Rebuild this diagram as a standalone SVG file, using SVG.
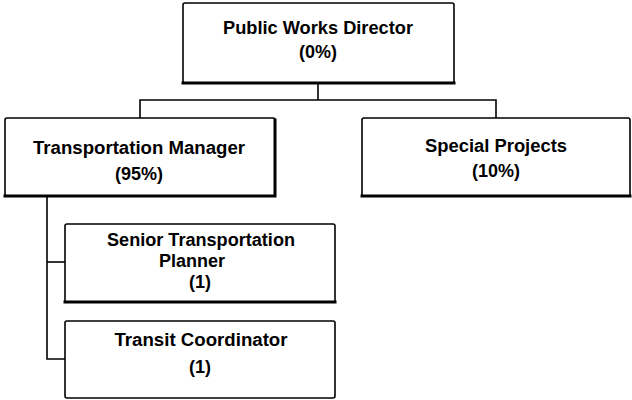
<svg xmlns="http://www.w3.org/2000/svg" width="632" height="400" viewBox="0 0 632 400">
  <style>
    .box { fill: #ffffff; stroke: #000000; stroke-width: 1.6; }
    .shadow { fill: none; stroke: #000000; stroke-width: 3; stroke-linecap: square; }
    .label { font-family: "Liberation Sans", Arial, sans-serif; font-weight: bold; font-size: 18px; fill: #000000; text-anchor: middle; }
    .link { fill: none; stroke: #000000; stroke-width: 1.6; }
  </style>
  <rect width="632" height="400" fill="#ffffff"/>

  <!-- connectors -->
  <g id="connectors">
    <polyline class="link" points="318,84 318,100"/>
    <polyline class="link" points="140,118 140,100 496,100 496,118"/>
    <polyline class="link" points="47,197 47,359 65,359"/>
    <polyline class="link" points="47,262 65,262"/>
  </g>

  <!-- Public Works Director -->
  <g id="public-works-director">
    <rect class="box" x="183" y="3" width="271" height="80" rx="2"/>
    <polyline class="shadow" points="183,83 454,83"/>
    <text class="label" x="318" y="34" textLength="190" lengthAdjust="spacingAndGlyphs">Public Works Director</text>
    <text class="label" x="318" y="58">(0%)</text>
  </g>

  <!-- Transportation Manager -->
  <g id="transportation-manager">
    <rect class="box" x="5" y="118" width="270" height="78" rx="2"/>
    <polyline class="shadow" points="5,196 275,196 275,120"/>
    <text class="label" x="139" y="154" textLength="212" lengthAdjust="spacingAndGlyphs">Transportation Manager</text>
    <text class="label" x="139" y="180">(95%)</text>
  </g>

  <!-- Special Projects -->
  <g id="special-projects">
    <rect class="box" x="362" y="118" width="268" height="78" rx="2"/>
    <polyline class="shadow" points="362,196 630,196"/>
    <text class="label" x="496" y="152" textLength="142" lengthAdjust="spacingAndGlyphs">Special Projects</text>
    <text class="label" x="496" y="177">(10%)</text>
  </g>

  <!-- Senior Transportation Planner -->
  <g id="senior-transportation-planner">
    <rect class="box" x="65" y="224" width="270" height="78" rx="2"/>
    <polyline class="shadow" points="65,302 335,302"/>
    <text class="label" x="201" y="246" textLength="188" lengthAdjust="spacingAndGlyphs">Senior Transportation</text>
    <text class="label" x="192" y="267">Planner</text>
    <text class="label" x="200" y="288">(1)</text>
  </g>

  <!-- Transit Coordinator -->
  <g id="transit-coordinator">
    <rect class="box" x="65" y="321" width="270" height="77" rx="2"/>
    <text class="label" x="201" y="346" textLength="173" lengthAdjust="spacingAndGlyphs">Transit Coordinator</text>
    <text class="label" x="200" y="373">(1)</text>
  </g>
</svg>
